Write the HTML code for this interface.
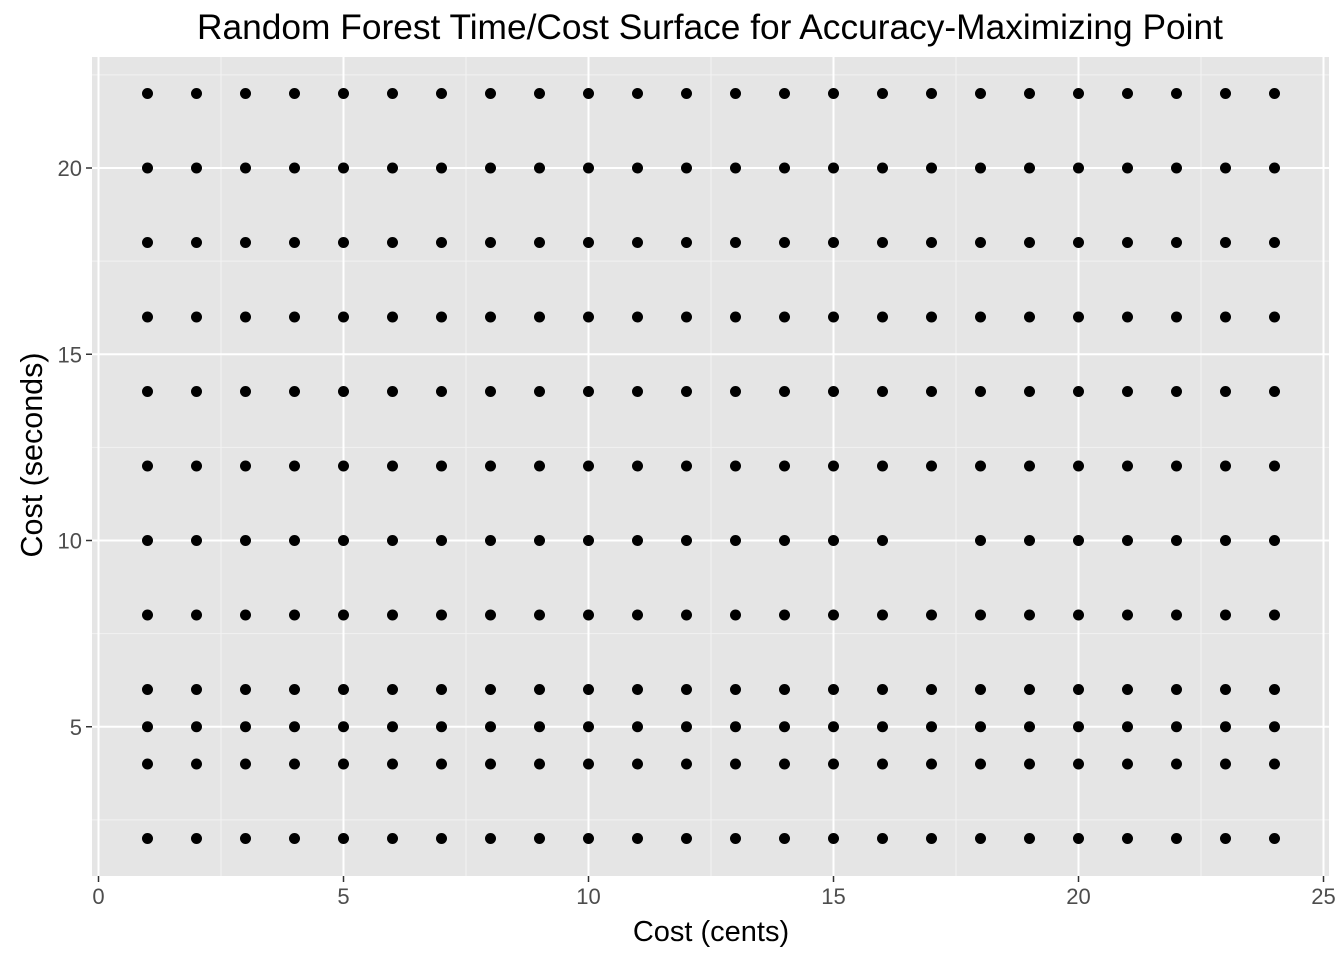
<!DOCTYPE html>
<html><head><meta charset="utf-8"><style>body{margin:0;background:#fff}svg{display:block}</style></head>
<body>
<svg id="c" width="1344" height="960" xmlns="http://www.w3.org/2000/svg" font-family="Liberation Sans, sans-serif">
<text x="710" y="39" font-size="35.3" text-anchor="middle" fill="#000">Random Forest Time/Cost Surface for Accuracy-Maximizing Point</text>
<rect x="92" y="57" width="1237" height="819" fill="#e5e5e5"/>
<g id="grid"></g><g id="pts"></g><g id="axes"></g>
<text x="711" y="941" font-size="29" text-anchor="middle">Cost (cents)</text>
<text transform="translate(42,455) rotate(-90)" font-size="30.5" text-anchor="middle">Cost (seconds)</text>
</svg>
<script>
const xCats=[1,2,3,4,5,6,7,8,9,10,11,12,13,14,15,16,17,18,19,20,21,22,23,24];
const yCats=[2,4,5,6,8,10,12,14,16,18,20,22];
const missing=[[17,10]];
const xTicks=[0,5,10,15,20,25];
const yTicks=[5,10,15,20];
const xMinor=[2.5,7.5,12.5,17.5,22.5];
const yMinor=[2.5,7.5,12.5,17.5,22.5];
const X=v=>98.5+v*49, Y=v=>913-v*37.25;
const NS='http://www.w3.org/2000/svg';
function mk(t,a,p){const e=document.createElementNS(NS,t);for(const k in a)e.setAttribute(k,a[k]);p.appendChild(e);return e;}
const g=document.getElementById('grid'),pt=document.getElementById('pts'),ax=document.getElementById('axes');
xMinor.forEach(v=>{const l=mk('line',{x1:X(v),x2:X(v),y1:57,y2:876,stroke:'#f2f2f2','stroke-width':1},g);

});
yMinor.forEach(v=>{const l=mk('line',{x1:92,x2:1329,y1:Y(v),y2:Y(v),stroke:'#f2f2f2','stroke-width':1},g);

});
xTicks.forEach(v=>{const l=mk('line',{x1:X(v),x2:X(v),y1:57,y2:876,stroke:'#fff','stroke-width':2},g);


const t=mk('line',{x1:X(v),x2:X(v),y1:876,y2:882,stroke:'#333','stroke-width':1.5},ax);


const s=mk('text',{x:X(v),y:904,'font-size':22,'text-anchor':'middle',fill:'#4d4d4d'},ax);s.textContent=v;

});
yTicks.forEach(v=>{const l=mk('line',{x1:92,x2:1329,y1:Y(v),y2:Y(v),stroke:'#fff','stroke-width':2},g);


const t=mk('line',{x1:86,x2:92,y1:Y(v),y2:Y(v),stroke:'#333','stroke-width':1.5},ax);


const s=mk('text',{x:82,y:Y(v)+8,'font-size':22,'text-anchor':'end',fill:'#4d4d4d'},ax);s.textContent=v;

});
yCats.forEach(y=>xCats.forEach(x=>{
if(missing.some(m=>m[0]===x&&m[1]===y))return;
const c=mk('circle',{cx:X(x),cy:Y(y),r:5.5,fill:'#000'},pt);

}));
</script>
</body></html>
